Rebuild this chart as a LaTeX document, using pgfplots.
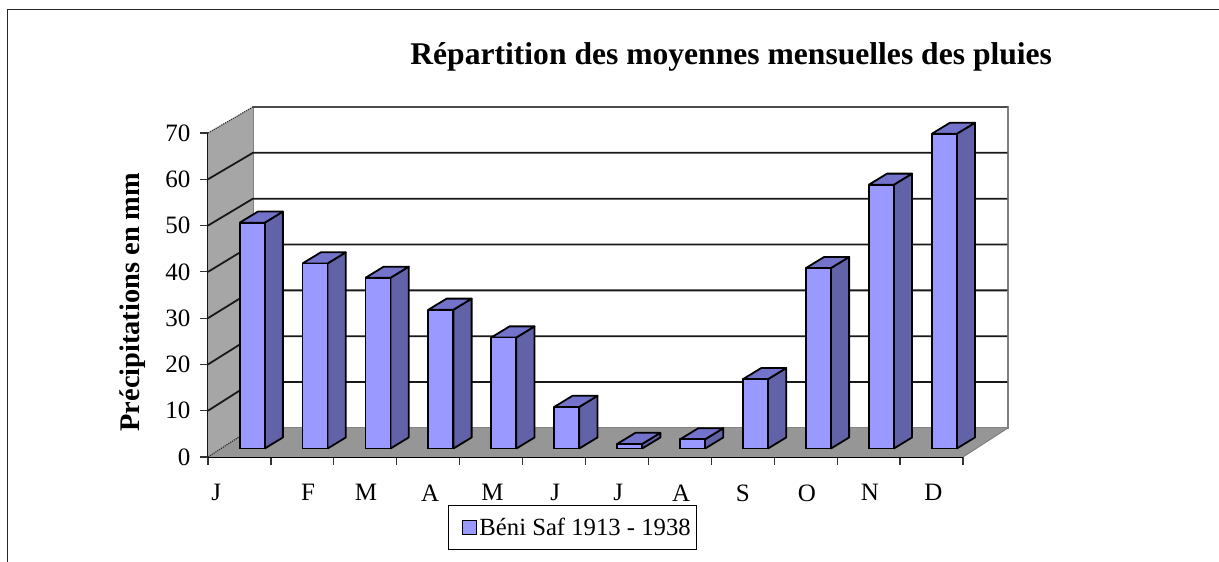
\documentclass[border=0pt]{standalone}
\usepackage{pgfplots}
\usepackage{pgfplotstable}
\usepackage{fontspec}
\setmainfont{Liberation Serif}
\pgfplotsset{compat=1.18}
\definecolor{barfront}{HTML}{9999FF}
\definecolor{barside}{HTML}{6262A8}
\definecolor{bartop}{HTML}{7373CC}
\definecolor{wallgray}{HTML}{A6A6A6}
\definecolor{floorgray}{HTML}{969696}
\pgfplotstableread{
i v
0 48.8
1 40
2 36.9
3 30
4 24
5 9
6 1
7 2
8 15
9 39
10 57
11 68
}\rain
\begin{document}
\begin{tikzpicture}
\useasboundingbox (-208pt,-105pt) rectangle (1011pt,457pt);
\draw[line width=1pt,black!85] (-200pt,-105pt) -- (-200pt,447pt) -- (1011pt,447pt);
\begin{axis}[
  scale only axis, width=755pt, height=324pt,
  xmin=0, xmax=12, ymin=0, ymax=70,
  clip=false,
  axis x line=bottom, axis y line=left,
  axis line style={-, line width=1.8pt, black},
  tick align=outside,
  tick style={line width=1.2pt, black!80},
  major tick length=8pt,
  xtick={0,...,12},
  xticklabels={},
  extra x ticks={0.13,1.59,2.51,3.53,4.52,5.52,6.52,7.52,8.5,9.52,10.52,11.53},
  extra x tick labels={J,F,M,A,M,J,J,A,S,O,N,D},
  extra x tick style={major tick length=0pt, tick style={draw=none},
    xticklabel style={yshift=-24pt}},
  ytick={0,10,...,70},
  yticklabel style={xshift=-6pt},
  ticklabel style={font=\fontsize{25}{29}\selectfont},
  /pgf/number format/assume math mode=true,
  ylabel={\textbf{Précipitations en mm}},
  ylabel style={at={(axis description cs:-0.1,0.478)}, anchor=center, rotate=0,
    font=\fontsize{28.4}{32}\selectfont},
  title={\textbf{Répartition des moyennes mensuelles des pluies}},
  title style={at={(axis description cs:0.693,1.216)}, anchor=center,
    font=\fontsize{31.6}{36}\selectfont},
  legend style={at={(axis description cs:0.483,-0.2176)}, anchor=center,
    draw=black, line width=1.2pt, inner xsep=4pt, inner ysep=10.5pt,
    font=\fontsize{24.7}{29}\selectfont,
    legend cell align=left},
]
% back wall
\addplot[fill=white, draw=gray, line width=1.5pt, forget plot]
  coordinates {(0.715,6.28) (12.715,6.28) (12.715,75.63) (0.715,75.63) (0.715,6.28)};
% grid on back wall and side wall
\addplot[fill=wallgray, draw=none, forget plot]
  coordinates {(0,0) (0.715,6.28) (0.715,75.63) (0,70) (0,0)};
\pgfplotsforeachungrouped \k in {10,20,30,40,50,60} {
  \pgfmathsetmacro\kb{\k*0.9907+6.28}
  \edef\tmp{\noexpand\addplot[draw=black!90, line width=1.8pt, forget plot]
    coordinates {(0,\k) (0.715,\kb) (12.715,\kb)};}
  \tmp
}
\addplot[draw=black!80, line width=1.2pt, densely dotted, forget plot]
  coordinates {(0,70) (0.715,75.63)};
\addplot[draw=black!70, line width=1.5pt, forget plot]
  coordinates {(0.715,75.63) (12.715,75.63)};
% floor
\addplot[fill=floorgray, draw=none, forget plot]
  coordinates {(0,0) (12,0) (12.715,6.28) (0.715,6.28) (0,0)};
\addplot[draw=black!80, line width=1.2pt, densely dotted, forget plot]
  coordinates {(0,0) (0.715,6.28)};
\addplot[draw=gray, line width=1pt, forget plot]
  coordinates {(12,0) (12.715,6.28) (12.715,75.63)};
% bars
\pgfplotsforeachungrouped \n in {0,...,11} {
  \pgfplotstablegetelem{\n}{v}\of\rain
  \let\val\pgfplotsretval
  \pgfmathsetmacro\xl{\n+0.503}
  \pgfmathsetmacro\xr{\n+0.90}
  \pgfmathsetmacro\xd{\n+1.19}
  \pgfmathsetmacro\xe{\n+0.793}
  \pgfmathsetmacro\yb{1.82}
  \pgfmathsetmacro\yt{1.82+\val}
  \pgfmathsetmacro\ybd{\yb+2.4}
  \pgfmathsetmacro\ytd{\yt+2.4}
  \edef\tmp{\noexpand\addplot[fill=barside, draw=black, line width=1.8pt, line join=round, forget plot]
    coordinates {(\xr,\yb) (\xd,\ybd) (\xd,\ytd) (\xr,\yt) (\xr,\yb)};}
  \tmp
  \edef\tmp{\noexpand\addplot[fill=bartop, draw=black, line width=1.8pt, line join=round, forget plot]
    coordinates {(\xl,\yt) (\xr,\yt) (\xd,\ytd) (\xe,\ytd) (\xl,\yt)};}
  \tmp
  \edef\tmp{\noexpand\addplot[fill=barfront, draw=black, line width=1.8pt, line join=round, forget plot]
    coordinates {(\xl,\yb) (\xr,\yb) (\xr,\yt) (\xl,\yt) (\xl,\yb)};}
  \tmp
}
\addlegendimage{legend image code/.code={
    \path[draw=none,fill=none] (-10pt,-1pt) rectangle (14pt,1pt);
    \draw[fill=barfront, draw=black, line width=1.8pt] (0pt,-7pt) rectangle (14pt,7pt);
  }}
\addlegendentry{Béni Saf 1913 - 1938}
\end{axis}
\end{tikzpicture}
\end{document}
